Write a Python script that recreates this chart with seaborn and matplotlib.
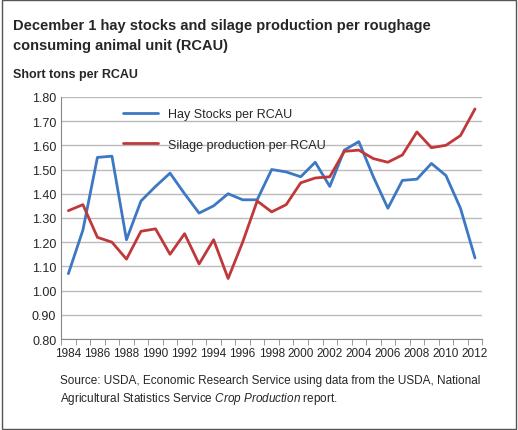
import numpy as np
import pandas as pd
import matplotlib
matplotlib.use("Agg")
import matplotlib.pyplot as plt
import seaborn as sns

years = list(range(1984, 2013))
hay_stocks = [1.07, 1.25, 1.55, 1.555, 1.21, 1.37, 1.43, 1.485, 1.40, 1.32,
              1.35, 1.40, 1.375, 1.375, 1.50, 1.49, 1.47, 1.53, 1.43, 1.58,
              1.615, 1.47, 1.34, 1.455, 1.46, 1.525, 1.475, 1.34, 1.135]
silage = [1.33, 1.355, 1.22, 1.20, 1.13, 1.245, 1.255, 1.15, 1.235, 1.11,
          1.21, 1.05, 1.20, 1.37, 1.325, 1.355, 1.445, 1.465, 1.47, 1.575,
          1.58, 1.545, 1.53, 1.56, 1.655, 1.59, 1.60, 1.64, 1.75]

df = pd.DataFrame({
    "year": years * 2,
    "value": hay_stocks + silage,
    "series": ["Hay Stocks per RCAU"] * len(years) + ["Silage production per RCAU"] * len(years),
})

sns.set_style("white")
plt.rcParams["font.family"] = ["Liberation Sans", "DejaVu Sans"]
plt.rcParams["mathtext.fontset"] = "custom"
plt.rcParams["mathtext.it"] = "Liberation Sans:italic"
plt.rcParams["mathtext.rm"] = "Liberation Sans"

fig = plt.figure(figsize=(5.18, 4.31), dpi=100)
ax = fig.add_axes([0.118, 0.211, 0.813, 0.562])
sns.lineplot(data=df, x="year", y="value", hue="series",
             palette=["#3c78c3", "#c0383a"], linewidth=2, ax=ax)

ax.set_xlim(1983.5, 2012.5)
ax.set_ylim(0.8, 1.8)
ax.set_yticks(np.arange(0.8, 1.81, 0.1))
ax.set_yticklabels([f"{v:.2f}" for v in np.arange(0.8, 1.81, 0.1)], fontsize=9)
ax.set_xticks(years[::2])
ax.set_xticklabels([str(y) for y in years[::2]], fontsize=8.5)
ax.set_xticks(np.arange(1983.5, 2013, 1), minor=True)
ax.tick_params(axis="x", which="minor", length=4, color="#888888", bottom=True)
ax.tick_params(axis="x", which="major", length=0, pad=6)
ax.tick_params(axis="y", length=0)
ax.grid(axis="y", color="#bbbbbb", linewidth=1)
for s in ["top", "right"]:
    ax.spines[s].set_visible(False)
for s in ["left", "bottom"]:
    ax.spines[s].set_color("#888888")
ax.set_xlabel("")
ax.set_ylabel("")

leg = ax.legend(loc="upper left", bbox_to_anchor=(0.12, 1.0), frameon=False,
                fontsize=9, handlelength=2.8, labelspacing=1.5)

fig.text(0.025, 0.955, "December 1 hay stocks and silage production per roughage\nconsuming animal unit (RCAU)",
         fontsize=10.5, fontweight="bold", va="top", linespacing=1.5)
fig.text(0.025, 0.825, "Short tons per RCAU", fontsize=9, fontweight="bold", va="center")
fig.text(0.115, 0.115, "Source: USDA, Economic Research Service using data from the USDA, National",
         fontsize=8.5, va="center")
fig.text(0.115, 0.075, "Agricultural Statistics Service $\\it{Crop\\ Production}$ report.",
         fontsize=8.5, va="center")

fig.patches.append(plt.Rectangle((0.003, 0.003), 0.994, 0.994, transform=fig.transFigure,
                                 fill=False, edgecolor="#555555", linewidth=1))
fig.savefig("out.png", dpi=100)
